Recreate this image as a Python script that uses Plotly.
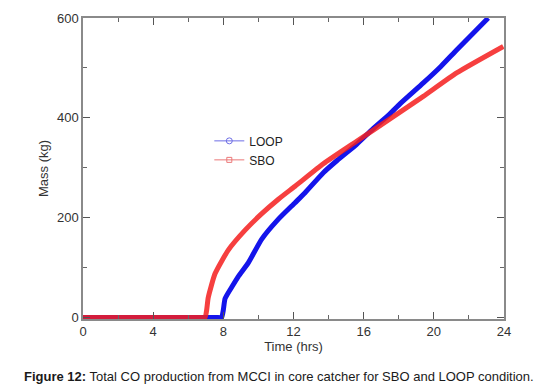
import plotly.graph_objects as go

# Time (hrs) and total CO mass (kg)
loop_t = [0, 4, 7.6, 7.9, 8.0, 8.1, 8.5, 8.85, 9.43, 10.19, 11.14, 12.09, 12.66, 13.7, 14.5, 15.6, 16.5, 17.5, 18.07, 19.4, 20.4, 21.3, 22.2, 23.1]
loop_m = [0, 0, 0, 0, 15, 38, 62, 82, 110, 157, 197, 230, 250, 290, 315, 347, 377, 408, 428, 470, 503, 536, 568, 600]

sbo_t = [0, 4, 6.7, 6.96, 7.05, 7.14, 7.53, 8.28, 9.24, 10.19, 11.14, 12.09, 13.7, 15.6, 17.5, 19.4, 21.3, 23.96]
sbo_m = [0, 0, 0, 0, 15, 40, 88, 135, 175, 208, 237, 263, 308, 353, 398, 443, 490, 543]

x_ticks = [0, 4, 8, 12, 16, 20, 24]
y_ticks = [0, 200, 400, 600]

BLUE = "rgb(20,20,235)"
RED = "rgb(245,30,30)"
FONT = "Liberation Sans, Arial, sans-serif"

fig = go.Figure()
fig.add_trace(go.Scatter(x=loop_t, y=loop_m, mode="lines",
                         line=dict(color=BLUE, width=5, shape="spline", smoothing=0.5),
                         showlegend=False, hoverinfo="skip"))
fig.add_trace(go.Scatter(x=sbo_t, y=sbo_m, mode="lines",
                         line=dict(color=RED, width=5, shape="spline", smoothing=0.5),
                         opacity=0.85, showlegend=False, hoverinfo="skip"))
# legend entries
fig.add_trace(go.Scatter(x=[None], y=[None], mode="lines+markers", name="LOOP",
                         line=dict(color="rgb(110,110,230)", width=1),
                         marker=dict(symbol="circle-open", size=6, color="rgb(110,110,230)")))
fig.add_trace(go.Scatter(x=[None], y=[None], mode="lines+markers", name="SBO",
                         line=dict(color="rgb(235,120,120)", width=1),
                         marker=dict(symbol="square-open", size=5, color="rgb(235,120,120)")))

axis_common = dict(showline=True, linecolor="#8a8a8a", linewidth=1.5, mirror="ticks",
                   ticks="inside", ticklen=7, tickwidth=1, tickcolor="#555",
                   showgrid=False, zeroline=False, automargin=False,
                   tickfont=dict(family=FONT, size=13, color="#333"),
                   minor=dict(ticks="inside", ticklen=4, tickwidth=1, tickcolor="#666"))

fig.update_xaxes(range=[0, 24], tickvals=x_ticks, ticktext=[str(v) for v in x_ticks],
                 minor_dtick=2, minor_tick0=0,
                 title=dict(text="Time (hrs)", font=dict(family=FONT, size=13, color="#333"), standoff=4),
                 **axis_common)
fig.update_yaxes(range=[-3, 600], tickvals=y_ticks, ticktext=[str(v) for v in y_ticks],
                 minor_dtick=100, minor_tick0=0,
                 title=dict(text="Mass (kg)", font=dict(family=FONT, size=13, color="#333"), standoff=5),
                 **axis_common)

fig.add_annotation(xref="paper", yref="paper", x=-0.145, y=-0.19, xanchor="left", yanchor="middle",
                   showarrow=False, align="left",
                   text="<b>Figure 12:</b> Total CO production from MCCI in core catcher for SBO and LOOP condition.",
                   font=dict(family=FONT, size=13, color="#1a1a1a"))

fig.update_layout(width=536, height=389, margin=dict(l=83, r=32, t=18, b=70, autoexpand=False),
                  paper_bgcolor="white", plot_bgcolor="white",
                  legend=dict(x=0.3, y=0.64, xanchor="left", yanchor="top", bgcolor="rgba(0,0,0,0)",
                              font=dict(family=FONT, size=12, color="#222"), tracegroupgap=0,
                              itemwidth=30))

fig.write_html("out.html", config={"displayModeBar": False},
               post_script="document.body.style.margin='0';document.body.style.overflow='hidden';")
